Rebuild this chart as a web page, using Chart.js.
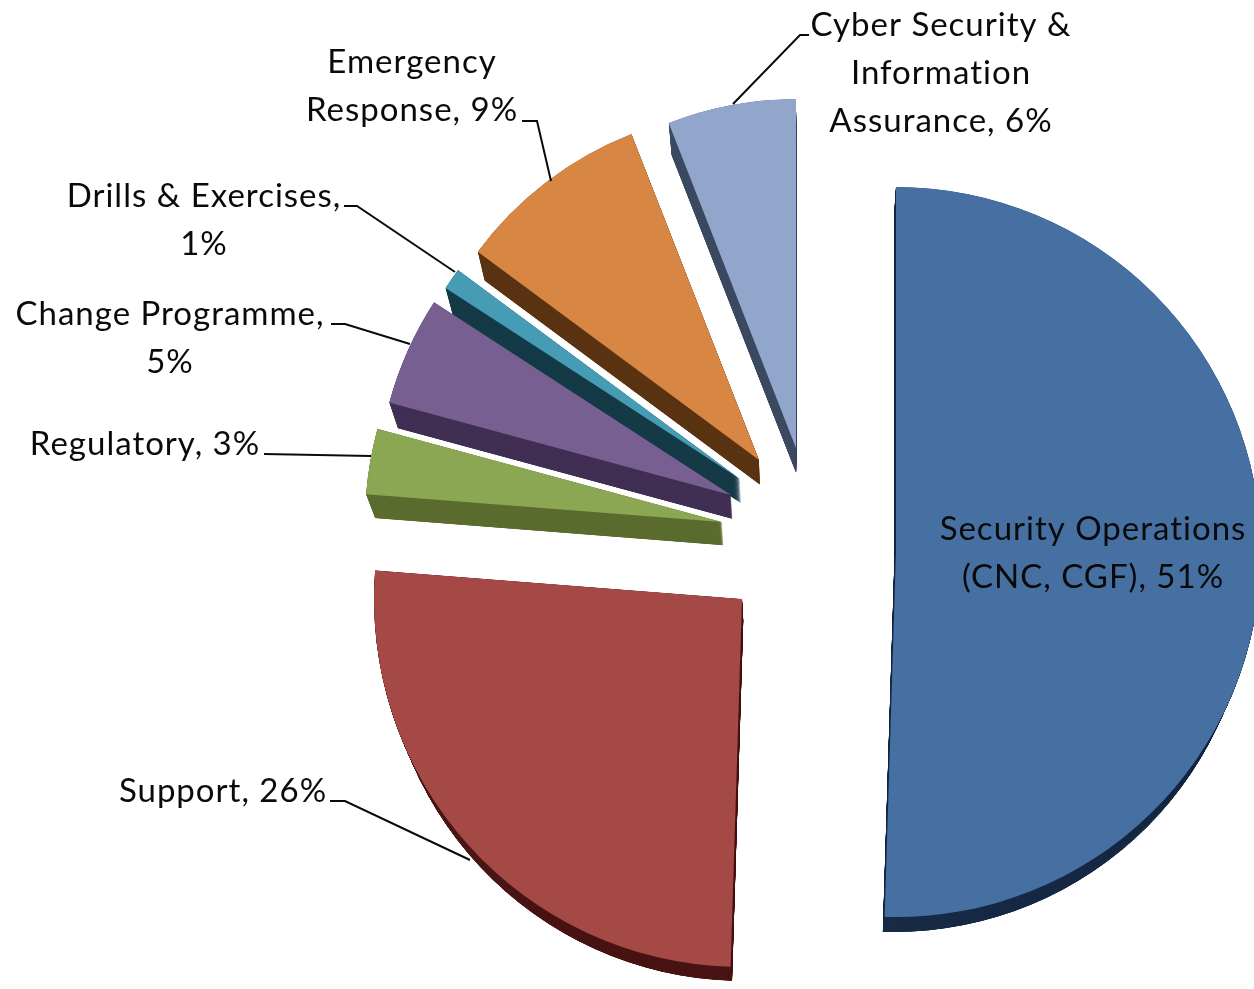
<!DOCTYPE html>
<html>
<head>
<meta charset="utf-8">
<title>Work breakdown</title>
<style>
  html, body { margin: 0; padding: 0; background: #ffffff; overflow: hidden; }
  canvas { display: block; }
</style>
<script src="https://cdn.jsdelivr.net/npm/chart.js@4"></script>
</head>
<body>
<canvas id="pie" width="1254" height="989"></canvas>
<script>
// Share of effort per work area, in percent, clockwise from twelve o'clock.
const categories = [
  'Security Operations (CNC, CGF)', 'Support', 'Regulatory', 'Change Programme',
  'Drills & Exercises', 'Emergency Response', 'Cyber Security & Information Assurance'
];
const shares = [51, 26, 3, 5, 1, 9, 6];

// Face and side colours per slice.
const faceColours = ['#4670a2', '#a44946', '#8ca754', '#775f92', '#479cb5', '#d78644', '#92a6cb'];
const sideColours = ['#1a2c47', '#4a1716', '#5c6d30', '#423155', '#173c49', '#5b3413', '#3c4a60'];

// Exploded layout: tip of each slice and its radius.
const tipX = [896, 742, 722, 731, 740, 759, 796];
const tipY = [552, 599, 522, 495, 479, 460, 448];
const sliceRadius = [365, 368, 357, 354, 351, 350, 349];

// Extrusion recedes towards a vanishing point below the chart.
const vanishX = 800, vanishY = 1630, depthShrink = 0.021, depthSteps = 120;

// Wrapped label text; {v} is filled from the slice's share.
const labelLines = [
  ['Security Operations', '(CNC, CGF), {v}%'],
  ['Support, {v}%'],
  ['Regulatory, {v}%'],
  ['Change Programme,', '{v}%'],
  ['Drills & Exercises,', '{v}%'],
  ['Emergency', 'Response, {v}%'],
  ['Cyber Security &', 'Information', 'Assurance, {v}%']
];
const labelCentreX = [1093, 223, 145, 170, 204, 412, 941];
const labelFirstY = [529, 791, 444, 314, 196, 62, 25];
const labelLineGap = 48.4;

// Leader polylines, one per label; the big slice has its label inside.
const leaders = [
  null,
  [[330, 801], [345, 801], [470, 860]],
  [[264, 454], [371, 456]],
  [[331, 324], [345, 324], [410, 344]],
  [[344, 206], [357, 206], [455, 272]],
  [[522, 121], [537, 121], [551, 181]],
  [[733, 104], [800, 35], [809, 35]]
];

// Places each arc at its exploded position once the controller has laid it out.
const explodePlugin = {
  id: 'explode',
  afterDatasetsUpdate(chart) {
    chart.getDatasetMeta(0).data.forEach((arc, i) => {
      arc.x = tipX[i];
      arc.y = tipY[i];
      arc.outerRadius = sliceRadius[i];
    });
  }
};

// Paints the extruded sides underneath the faces the library draws.
const depthPlugin = {
  id: 'depth',
  beforeDatasetsDraw(chart) {
    const ctx = chart.ctx;
    chart.getDatasetMeta(0).data.forEach((arc, i) => {
      ctx.fillStyle = sideColours[i];
      for (let step = depthSteps; step >= 1; step--) {
        const s = 1 - depthShrink * step / depthSteps;
        ctx.save();
        ctx.translate(vanishX, vanishY);
        ctx.scale(s, s);
        ctx.translate(-vanishX, -vanishY);
        ctx.beginPath();
        ctx.moveTo(arc.x, arc.y);
        ctx.arc(arc.x, arc.y, arc.outerRadius, arc.startAngle, arc.endAngle);
        ctx.closePath();
        ctx.fill();
        ctx.restore();
      }
    });
  }
};

// Writes the category labels and their leader lines above the slices.
const labelPlugin = {
  id: 'sliceLabels',
  afterDatasetsDraw(chart) {
    const ctx = chart.ctx;
    ctx.save();
    ctx.strokeStyle = '#0a0a0a';
    ctx.lineWidth = 2;
    leaders.forEach(points => {
      if (!points) return;
      ctx.beginPath();
      points.forEach(([x, y], k) => (k ? ctx.lineTo(x, y) : ctx.moveTo(x, y)));
      ctx.stroke();
    });
    ctx.fillStyle = '#0a0a0a';
    ctx.font = '33px Lato';
    ctx.letterSpacing = '1px';
    ctx.textAlign = 'center';
    ctx.textBaseline = 'middle';
    labelLines.forEach((lines, i) => {
      lines.forEach((line, k) => {
        ctx.fillText(line.replace('{v}', shares[i]), labelCentreX[i], labelFirstY[i] + k * labelLineGap);
      });
    });
    ctx.restore();
  }
};

new Chart(document.getElementById('pie'), {
  type: 'pie',
  data: {
    labels: categories,
    datasets: [{
      data: shares,
      backgroundColor: faceColours,
      borderWidth: 0
    }]
  },
  options: {
    responsive: false,
    animation: false,
    plugins: { legend: { display: false }, tooltip: { enabled: false } }
  },
  plugins: [explodePlugin, depthPlugin, labelPlugin]
});
</script>
</body>
</html>
